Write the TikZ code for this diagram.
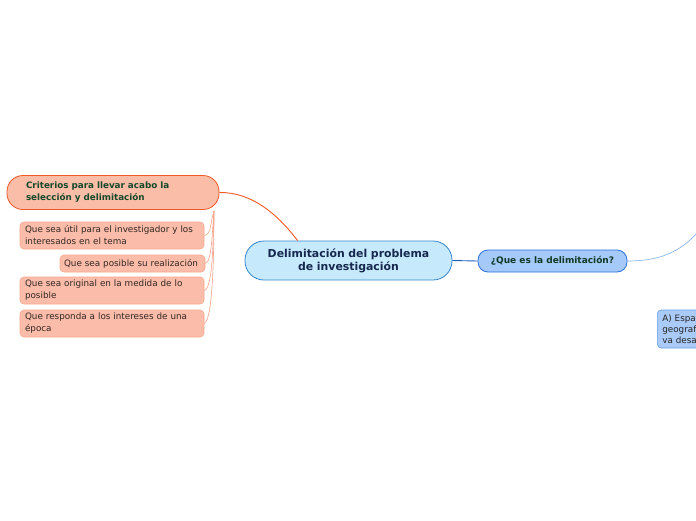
\documentclass[tikz,border=0pt]{standalone}
\usepackage{fontspec}
\setmainfont{DejaVu Sans}
\definecolor{cenfill}{RGB}{198,234,251}
\definecolor{cenbord}{RGB}{52,132,205}
\definecolor{centext}{RGB}{22,40,78}
\definecolor{crifill}{RGB}{249,189,168}
\definecolor{cribord}{RGB}{240,88,38}
\definecolor{critext}{RGB}{22,72,42}
\definecolor{chfill}{RGB}{251,189,169}
\definecolor{chbord}{RGB}{246,168,142}
\definecolor{chtext}{RGB}{50,38,36}
\definecolor{chline}{RGB}{246,162,136}
\definecolor{qfill}{RGB}{165,201,248}
\definecolor{qbord}{RGB}{42,112,216}
\definecolor{qtext}{RGB}{16,58,40}
\definecolor{bline}{RGB}{30,92,182}
\definecolor{lbline}{RGB}{125,172,232}
\definecolor{afill}{RGB}{170,203,247}
\definecolor{abord}{RGB}{105,158,232}
\tikzset{
  centerbox/.style={draw=cenbord, fill=cenfill, line width=0.8pt, rounded corners=19pt,
    minimum width=207pt, minimum height=39pt, text width=200pt, align=center,
    font=\fontsize{10.9}{13}\selectfont\bfseries, text=centext, inner sep=0pt},
  cribox/.style={draw=cribord, fill=crifill, line width=0.8pt, rounded corners=16pt,
    minimum width=212pt, minimum height=34pt, text width=174pt, align=left,
    font=\fontsize{8.8}{12}\selectfont\bfseries, text=critext, inner sep=0pt},
  childbox/.style={draw=chbord, fill=chfill, line width=0.6pt, rounded corners=4pt,
    align=left, font=\fontsize{8.8}{12}\selectfont, text=chtext, inner sep=0pt},
  qbox/.style={draw=qbord, fill=qfill, line width=0.8pt, rounded corners=10pt,
    minimum width=149pt, minimum height=22pt, align=center,
    font=\fontsize{9}{11}\selectfont\bfseries, text=qtext, inner sep=0pt},
  abox/.style={draw=abord, fill=afill, line width=0.6pt, rounded corners=4pt,
    align=left, font=\fontsize{8.8}{11}\selectfont, text=black!85, inner sep=0pt},
  chconn/.style={draw=chline, line width=0.6pt},
}
\begin{document}
\begin{tikzpicture}[x=1pt,y=-1pt]
\useasboundingbox (0,0) rectangle (696,520);
\clip (0,0) rectangle (696,520);
% nodes
\node[centerbox] (cen) at (348.5,260.5) {Delimitación del problema\\de investigación};
\node[cribox] (cri) at (113,192.5) {Criterios para llevar acabo la\\selección y delimitación};
\node[childbox, minimum width=184pt, minimum height=27pt, text width=174pt] (c1) at (112,235.5) {Que sea útil para el investigador y los\\interesados en el tema};
\node[childbox, minimum width=145pt, minimum height=17pt, text width=137pt] (c2) at (132.5,263.5) {Que sea posible su realización};
\node[childbox, minimum width=184pt, minimum height=27pt, text width=174pt] (c3) at (112,290.5) {Que sea original en la medida de lo\\posible};
\node[childbox, minimum width=184pt, minimum height=27pt, text width=174pt] (c4) at (112,323.5) {Que responda a los intereses de una\\época};
\node[qbox] (q) at (552.5,261) {¿Que es la delimitación?};
\node[abox, minimum width=60pt, minimum height=38pt, text width=50pt, anchor=west] (a) at (657,329) {A) Espa\\geograf\\va desa};
% connectors
\coordinate (cjoin) at (214,211);
\draw[cribord, line width=0.9pt] (cen.north west) ++(53,0) coordinate (cs)
  .. controls (276,212) and (250,192) .. (cri.east);
\draw[chconn] (cjoin) .. controls (210,222) and (212,234) .. (c1.east);
\draw[chconn] (cjoin) .. controls (212,232) and (212,262) .. (c2.east);
\draw[chconn] (cjoin) .. controls (213,240) and (213,288) .. (c3.east);
\draw[chconn] (cjoin) .. controls (214,250) and (213,320) .. (c4.east);
\draw[bline, line width=0.9pt] (cen.east) -- (q.west);
\coordinate (rend) at (698,232);
\draw[lbline, line width=0.6pt] (q.east) .. controls (660,261) and (680,252) .. (rend);
\end{tikzpicture}
\end{document}
